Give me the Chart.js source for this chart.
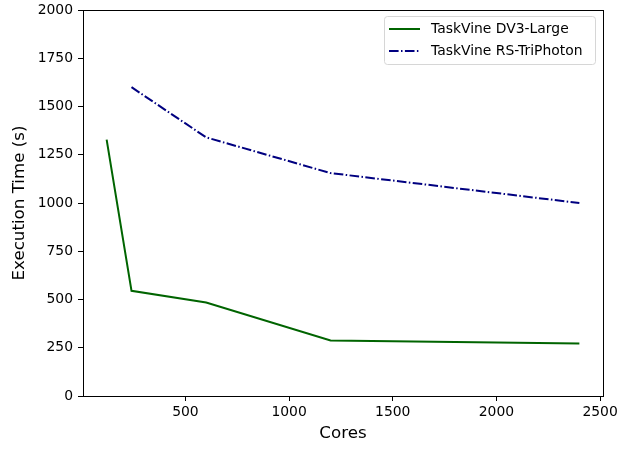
<!DOCTYPE html>
<html>
<head>
<meta charset="utf-8">
<script src="https://cdn.jsdelivr.net/npm/chart.js@4.4.1/dist/chart.umd.min.js"></script>
<style>
  html, body { margin: 0; padding: 0; background: #fff; }
  #wrap { width: 631px; height: 449px; }
</style>
</head>
<body>
<div id="wrap"><canvas id="chart" width="631" height="449"></canvas></div>
<script>
// Data
const dv3Cores = [120, 240, 600, 1200, 2400];
const dv3Times = [1328, 545, 484, 288, 272];
const rsCores = [240, 600, 1200, 2400];
const rsTimes = [1600, 1340, 1155, 1000];
const xTicks = [500, 1000, 1500, 2000, 2500];
const yTicks = [0, 250, 500, 750, 1000, 1250, 1500, 1750, 2000];
const seriesNames = ['TaskVine DV3-Large', 'TaskVine RS-TriPhoton'];

const FONT = 'DejaVu Sans';

// Top / right spines + legend box inside the axes
const framePlugin = {
    id: 'frame',
    afterDraw(chart) {
        const { ctx, chartArea: a } = chart;
        ctx.save();
        ctx.strokeStyle = '#000';
        ctx.lineWidth = 1;
        ctx.strokeRect(a.left + 0.5, a.top + 0.5, a.right - a.left, a.bottom - a.top);

        // legend
        const bx = 384.5, by = 16.5, bw = 211, bh = 48;
        ctx.fillStyle = 'rgba(255,255,255,0.8)';
        ctx.strokeStyle = '#d6d6d6';
        ctx.beginPath();
        ctx.roundRect(bx, by, bw, bh, 3);
        ctx.fill();
        ctx.stroke();
        const ds = chart.data.datasets;
        ds.forEach((d, i) => {
            const y = 29 + i * 22;
            ctx.strokeStyle = d.borderColor;
            ctx.lineWidth = 2;
            ctx.setLineDash(d.borderDash || []);
            ctx.beginPath();
            ctx.moveTo(389, y);
            ctx.lineTo(420, y);
            ctx.stroke();
            ctx.setLineDash([]);
            ctx.fillStyle = '#000';
            ctx.font = '13.9px ' + FONT;
            ctx.textBaseline = 'middle';
            ctx.textAlign = 'left';
            ctx.fillText(d.label, 431, y);
        });
        ctx.restore();
    }
};

new Chart(document.getElementById('chart'), {
    type: 'line',
    data: {
        datasets: [
            {
                label: seriesNames[0],
                data: dv3Cores.map((c, i) => ({ x: c, y: dv3Times[i] })),
                borderColor: '#006400',
                borderWidth: 2,
                pointRadius: 0,
                tension: 0,
                fill: false
            },
            {
                label: seriesNames[1],
                data: rsCores.map((c, i) => ({ x: c, y: rsTimes[i] })),
                borderColor: '#000080',
                borderWidth: 2,
                borderDash: [9.6, 2.4, 1.5, 2.4],
                pointRadius: 0,
                tension: 0,
                fill: false
            }
        ]
    },
    options: {
        responsive: false,
        animation: false,
        layout: { padding: { top: 10, right: 28, left: 0, bottom: 0 } },
        plugins: { legend: { display: false }, tooltip: { enabled: false } },
        scales: {
            x: {
                type: 'linear',
                min: 6,
                max: 2514,
                afterFit: s => { s.height = 53; s.paddingLeft = 0; s.paddingRight = 0; },
                afterBuildTicks: s => { s.ticks = xTicks.map(v => ({ value: v })); },
                border: { display: true, color: '#000', width: 1 },
                grid: { display: true, drawOnChartArea: false, drawTicks: true, tickLength: 5, color: '#000' },
                ticks: { color: '#000', padding: 3, maxRotation: 0, callback: v => String(v), font: { family: FONT, size: 13.9 } },
                title: { display: true, text: 'Cores', color: '#000', padding: { top: 2, bottom: 5 }, font: { family: FONT, size: 16.7 } }
            },
            y: {
                type: 'linear',
                min: 0,
                max: 2000,
                afterFit: s => { s.width = 83; s.paddingTop = 0; s.paddingBottom = 0; },
                afterBuildTicks: s => { s.ticks = yTicks.map(v => ({ value: v })); },
                border: { display: true, color: '#000', width: 1 },
                grid: { display: true, drawOnChartArea: false, drawTicks: true, tickLength: 5, color: '#000' },
                ticks: { color: '#000', padding: 5, callback: v => String(v), font: { family: FONT, size: 13.9 } },
                title: { display: true, text: 'Execution Time (s)', color: '#000', padding: { top: 10, bottom: 0 }, font: { family: FONT, size: 16.7 } }
            }
        }
    },
    plugins: [framePlugin]
});
</script>
</body>
</html>
